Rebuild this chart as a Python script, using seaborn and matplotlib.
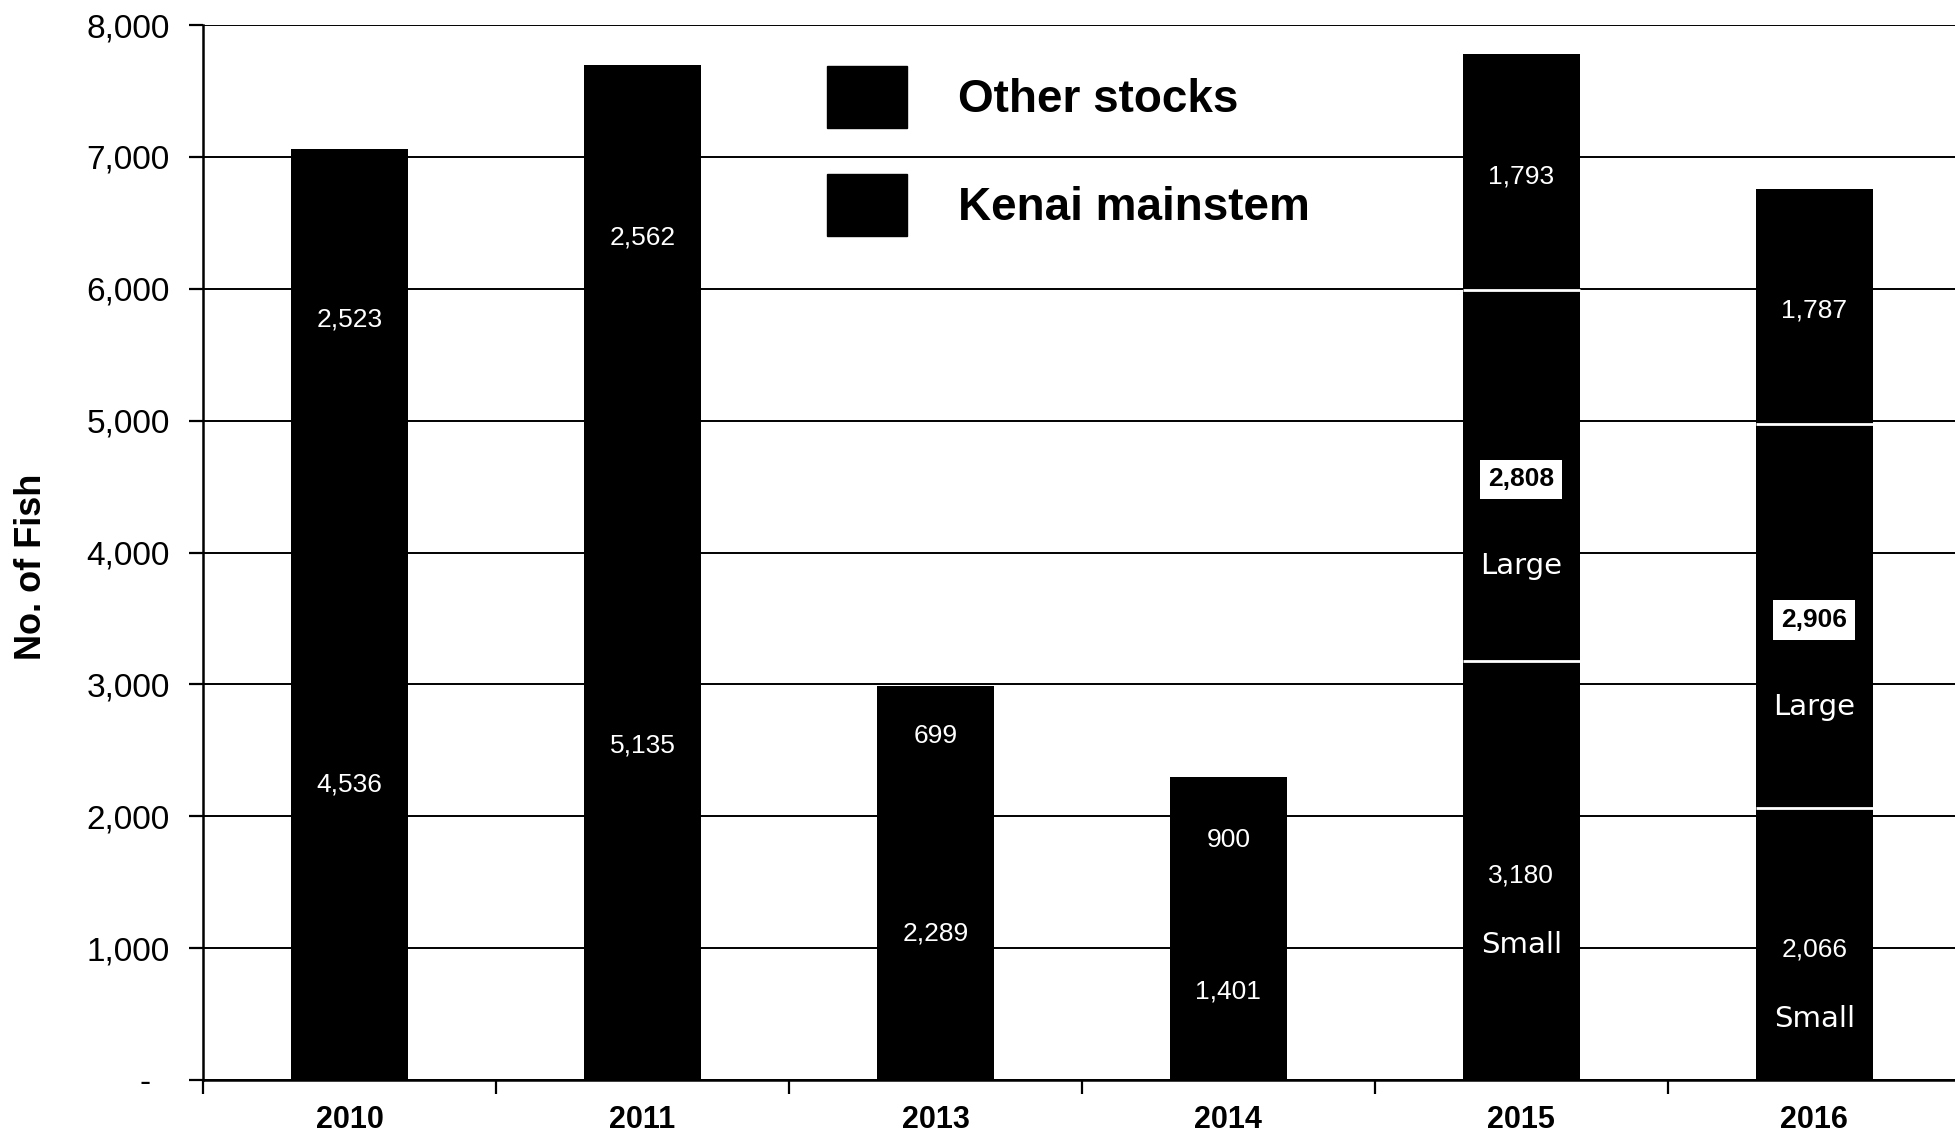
import numpy as np
import pandas as pd
import seaborn as sns
import matplotlib.pyplot as plt
from matplotlib.patches import Patch
from matplotlib.ticker import FixedLocator

# --- data ---
years = ["2010", "2011", "2013", "2014", "2015", "2016"]
kenai_small = [4536, 5135, 2289, 1401, 3180, 2066]   # Kenai mainstem (small part in 2015/16)
kenai_large = [0, 0, 0, 0, 2808, 2906]               # Kenai mainstem large fish
other_stocks = [2523, 2562, 699, 900, 1793, 1787]
y_ticks = [0, 1000, 2000, 3000, 4000, 5000, 6000, 7000, 8000]
y_ticklabels = ["-  ", "1,000", "2,000", "3,000", "4,000", "5,000", "6,000", "7,000", "8,000"]

df = pd.DataFrame({"year": years, "small": kenai_small,
                   "large": kenai_large, "other": other_stocks})
df["kenai_top"] = df["small"] + df["large"]
df["total"] = df["kenai_top"] + df["other"]

sns.set_style("white")
plt.rcParams["font.family"] = ["Liberation Sans", "DejaVu Sans"]
plt.rcParams["text.color"] = "black"
plt.rcParams["axes.labelcolor"] = "black"
plt.rcParams["xtick.color"] = "black"
plt.rcParams["ytick.color"] = "black"

fig = plt.figure(figsize=(19.55, 11.33), dpi=100)
ax = fig.add_axes([203 / 1955, 53 / 1133, 1 - 203 / 1955, 1055 / 1133])

bw = 0.4
bar_kw = dict(color="black", saturation=1, width=bw, linewidth=0, ax=ax, zorder=3)
sns.barplot(data=df, x="year", y="small", **bar_kw)
sns.barplot(data=df, x="year", y="large", bottom=df["small"].to_numpy(), **bar_kw)
sns.barplot(data=df, x="year", y="other", bottom=df["kenai_top"].to_numpy(), **bar_kw)

# thin white splits where Kenai is broken into small/large
for i, r in df.iterrows():
    if r["large"] > 0:
        ax.hlines([r["small"], r["kenai_top"]], i - bw / 2, i + bw / 2,
                  colors="white", linewidth=2, zorder=4)

# value labels
num_kw = dict(color="white", fontsize=19, ha="center", va="center", zorder=5)
word_kw = dict(color="white", fontsize=21, family="DejaVu Sans",
               ha="center", va="center", zorder=5)
for i, r in df.iterrows():
    ax.text(i, (r["kenai_top"] + r["total"]) / 2 - 30, f"{r['other']:,}", **num_kw)
    if r["large"] > 0:
        ax.text(i, r["small"] / 2 - 40, f"{r['small']:,}", **num_kw)
        ax.text(i, r["small"] / 2 - 570, "Small", **word_kw)
        mid = (r["small"] + r["kenai_top"]) / 2 - 30
        ax.text(i, mid, f"{r['large']:,}", color="black", fontsize=19,
                fontweight="bold", ha="center", va="center", zorder=5,
                bbox=dict(boxstyle="square,pad=0.3", fc="white", ec="none"))
        ax.text(i, mid - 660, "Large", **word_kw)
    else:
        ax.text(i, r["small"] / 2 - 30, f"{r['small']:,}", **num_kw)

ax.set_xlim(-0.5, 5.48)
ax.set_ylim(0, 8000)
ax.set_yticks(y_ticks)
ax.set_yticklabels(y_ticklabels, fontsize=24)
ax.yaxis.grid(True, color="black", linewidth=1.4, zorder=0)
ax.set_axisbelow(True)

ax.xaxis.set_minor_locator(FixedLocator(np.arange(-0.5, 5.0, 1.0)))
ax.tick_params(axis="x", which="major", bottom=True, length=0, pad=18, labelsize=22)
ax.tick_params(axis="x", which="minor", bottom=True, length=10, width=1.6,
               direction="out", color="black")
ax.tick_params(axis="y", left=True, length=10, width=1.6, direction="out",
               color="black", pad=14)
for lab in ax.get_xticklabels():
    lab.set_fontweight("bold")

for s in ["top", "right"]:
    ax.spines[s].set_visible(False)
for s in ["left", "bottom"]:
    ax.spines[s].set_color("black")
    ax.spines[s].set_linewidth(1.8)

ax.set_xlabel("")
ax.set_ylabel("No. of Fish", fontsize=26, fontweight="bold")
ax.yaxis.set_label_coords(-0.088, 0.486)

handles = [Patch(facecolor="black", edgecolor="black"),
           Patch(facecolor="black", edgecolor="black")]
leg = fig.legend(handles, ["Other stocks", "Kenai mainstem"], loc="upper left",
                 bbox_to_anchor=(827 / 1955, 1 - 66 / 1133), frameon=False,
                 prop=dict(family="Liberation Sans", weight="bold", size=33),
                 handlelength=1.75, handleheight=1.7, labelspacing=1.0,
                 handletextpad=1.1, borderpad=0, borderaxespad=0)

fig.savefig("out.png", dpi=100)
